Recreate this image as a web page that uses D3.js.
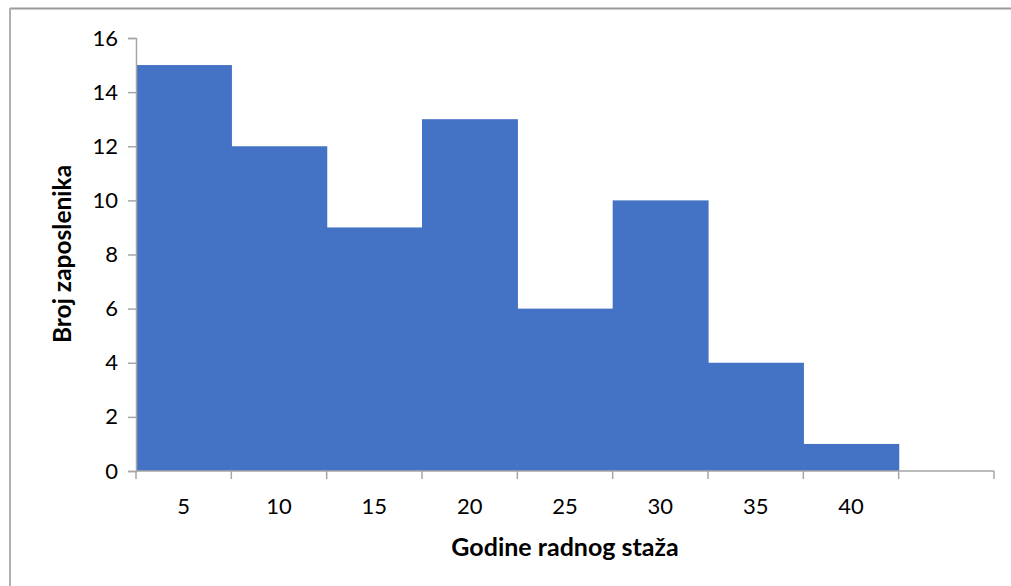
<!DOCTYPE html>
<html>
<head>
<meta charset="utf-8">
<script src="https://cdn.jsdelivr.net/npm/d3@7"></script>
<style>
  body { margin: 0; background: #fff; }
  text { font-family: Lato, "Open Sans", sans-serif; fill: #000; }
</style>
</head>
<body>
<div id="holder"></div>
<script>
var width = 1011;
var height = 586;

// bins of years of service, the last one is an empty slot
var categories = ["5", "10", "15", "20", "25", "30", "35", "40", ""];
var counts = [15, 12, 9, 13, 6, 10, 4, 1, null];
var yTicks = [0, 2, 4, 6, 8, 10, 12, 14, 16];
var xTitle = "Godine radnog staža";
var yTitle = "Broj zaposlenika";

var plotLeft = 136, plotRight = 994, plotTop = 38, plotBottom = 471;

var svg = d3.select("#holder")
  .append("svg")
  .attr("width", width)
  .attr("height", height);

// frame (only top and left edges are visible)
svg.append("line")
  .attr("x1", 10).attr("y1", 8.5).attr("x2", width).attr("y2", 8.5)
  .attr("stroke", "#9a9a9a").attr("stroke-width", 2);
svg.append("line")
  .attr("x1", 10).attr("y1", 8).attr("x2", 10).attr("y2", height)
  .attr("stroke", "#b0b0b0").attr("stroke-width", 2);

var x = d3.scaleBand()
  .domain(d3.range(categories.length))
  .range([plotLeft, plotRight])
  .padding(0);

var y = d3.scaleLinear()
  .domain([0, 16])
  .range([plotBottom, plotTop]);

// bars (a hair wider so neighbours don't show a seam)
svg.append("g")
  .selectAll("rect")
  .data(counts.map((d, i) => ({v: d, i: i})).filter(d => d.v != null))
  .enter().append("rect")
    .attr("x", d => x(d.i))
    .attr("y", d => y(d.v))
    .attr("width", x.bandwidth() + 0.6)
    .attr("height", d => y(0) - y(d.v))
    .attr("fill", "#4472C4");

// y axis
var yAxis = svg.append("g")
  .attr("transform", "translate(" + plotLeft + ",0)")
  .call(d3.axisLeft(y).tickValues(yTicks).tickSize(8).tickPadding(10));
yAxis.select(".domain").attr("stroke", "#a6a6a6").attr("stroke-width", 1.5);
yAxis.selectAll(".tick line").attr("stroke", "#a6a6a6").attr("stroke-width", 1.5);
yAxis.selectAll("text")
  .attr("font-family", null)
  .attr("font-size", null)
  .style("font-size", "22px")
  .attr("fill", "#000");

// x axis: ticks on category boundaries, labels centered in bands
var bounds = d3.range(categories.length + 1).map(i => plotLeft + i * x.bandwidth());
var xg = svg.append("g");
xg.append("line")
  .attr("x1", plotLeft).attr("x2", plotRight)
  .attr("y1", plotBottom).attr("y2", plotBottom)
  .attr("stroke", "#a6a6a6").attr("stroke-width", 1.5);
xg.selectAll(".xt")
  .data(bounds)
  .enter().append("line")
    .attr("x1", d => d).attr("x2", d => d)
    .attr("y1", plotBottom).attr("y2", plotBottom + 8)
    .attr("stroke", "#a6a6a6").attr("stroke-width", 1.5);
xg.selectAll(".xl")
  .data(categories)
  .enter().append("text")
    .attr("x", (d, i) => x(i) + x.bandwidth() / 2)
    .attr("y", 514)
    .attr("text-anchor", "middle")
    .style("font-size", "22px")
    .text(d => d);

// titles
svg.append("text")
  .attr("x", 565)
  .attr("y", 556)
  .attr("text-anchor", "middle")
  .style("font-size", "25px")
  .style("font-weight", "bold")
  .text(xTitle);

svg.append("text")
  .attr("transform", "translate(71,254) rotate(-90)")
  .attr("text-anchor", "middle")
  .style("font-size", "24.5px")
  .style("font-weight", "bold")
  .text(yTitle);
</script>
</body>
</html>
